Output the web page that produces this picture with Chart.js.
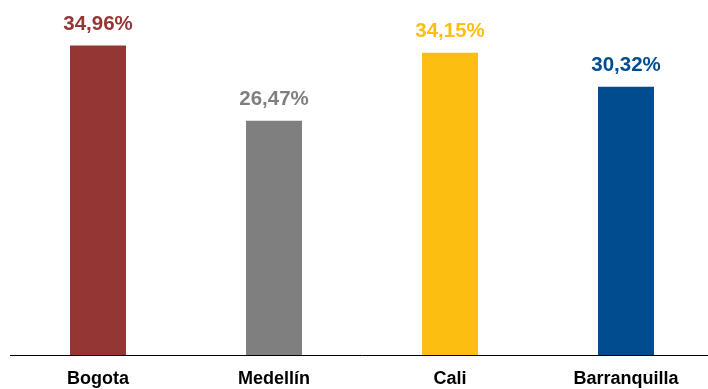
<!DOCTYPE html>
<html>
<head>
<meta charset="utf-8">
<script src="https://cdn.jsdelivr.net/npm/chart.js@4"></script>
<style>
  html, body { margin: 0; padding: 0; background: #fff; overflow: hidden; }
  #wrap { width: 708px; height: 389px; overflow: hidden; }
  #wrap div { width: 720px; height: 389px; }
</style>
</head>
<body>
<div id="wrap"><div><canvas id="chart"></canvas></div></div>
<script>
const cities = ["Bogota", "Medellín", "Cali", "Barranquilla"];
const shares = [34.96, 26.47, 34.15, 30.32];
const barColors = ["#943634", "#7F7F7F", "#FDBE12", "#004C8F"];

// value labels above each bar, coloured like the bar
const valueLabels = {
  id: "valueLabels",
  afterDatasetsDraw(chart) {
    const ctx = chart.ctx;
    const meta = chart.getDatasetMeta(0);
    ctx.save();
    ctx.font = "bold 20.5px 'Liberation Sans', Arial, sans-serif";
    ctx.textAlign = "center";
    ctx.textBaseline = "alphabetic";
    meta.data.forEach((bar, i) => {
      ctx.fillStyle = barColors[i];
      const text = shares[i].toFixed(2).replace(".", ",") + "%";
      ctx.fillText(text, bar.x, bar.y - 16);
    });
    ctx.restore();
  },
};

new Chart(document.getElementById("chart"), {
  type: "bar",
  data: {
    labels: cities,
    datasets: [
      {
        data: shares,
        backgroundColor: barColors,
        barPercentage: 0.318,
        categoryPercentage: 1,
      },
    ],
  },
  options: {
    responsive: true,
    maintainAspectRatio: false,
    animation: false,
    layout: { padding: { left: 10, right: 6, top: 1, bottom: 0 } },
    plugins: {
      legend: { display: false },
      tooltip: { enabled: false },
    },
    scales: {
      x: {
        grid: { display: false, drawTicks: false },
        border: { display: true, color: "#000", width: 1 },
        ticks: {
          color: "#000",
          padding: 13,
          maxRotation: 0,
          font: { family: "'Liberation Sans', Arial, sans-serif", size: 18, weight: "bold" },
        },
        afterFit(scale) {
          scale.height = 34;
        },
      },
      y: {
        display: false,
        min: 0,
        max: 40,
      },
    },
  },
  plugins: [valueLabels],
});
</script>
</body>
</html>
